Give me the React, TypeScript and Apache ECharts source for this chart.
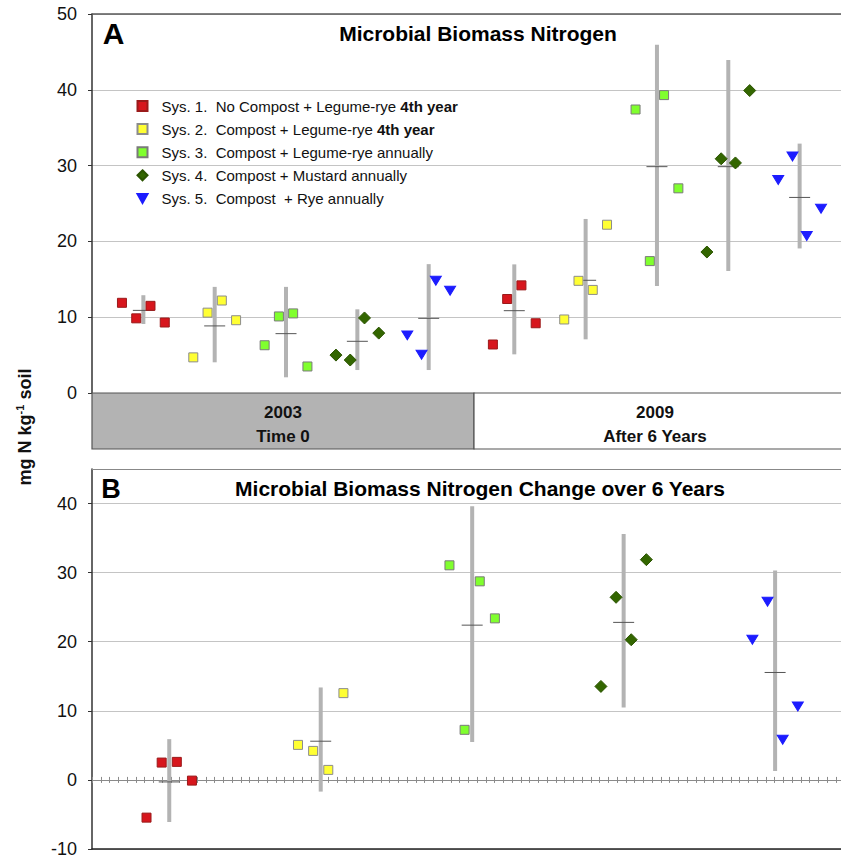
import React, { useEffect, useRef } from "react";
import * as echarts from "echarts";

// ---------- data ----------
const systemNames = [
  "Sys. 1.  No Compost + Legume-rye 4th year",
  "Sys. 2.  Compost + Legume-rye 4th year",
  "Sys. 3.  Compost + Legume-rye annually",
  "Sys. 4.  Compost + Mustard annually",
  "Sys. 5.  Compost  + Rye annually",
];
const boldSuffix = ["4th year", "4th year", "", "", ""];

const periodLabels = [["2003", "Time 0"], ["2009", "After 6 Years"]];
const titleA = "Microbial Biomass Nitrogen";
const titleB = "Microbial Biomass Nitrogen Change over 6 Years";

const yTicksA = [0, 10, 20, 30, 40, 50];
const yTicksB = [-10, 0, 10, 20, 30, 40];

// horizontal slot positions (in plot units)
const sampleOffsets = [-1.5, -0.5, 0.5, 1.5];
const centersA2003 = [3.5, 8.5, 13.5, 18.5, 23.5];
const centersA2009 = [29.5, 34.5, 39.5, 44.5, 49.5];
const centersB = [5, 15, 25, 35, 45];

// Panel A individual plot values (mg N / kg soil)
const valuesA2003 = [
  [11.9, 9.85, 11.5, 9.3],
  [4.7, 10.6, 12.2, 9.6],
  [6.3, 10.1, 10.5, 3.5],
  [5.0, 4.35, 9.9, 7.9],
  [7.6, 5.05, 14.8, 13.5],
];
const valuesA2009 = [
  [6.4, 12.4, 14.2, 9.2],
  [9.7, 14.8, 13.6, 22.2],
  [37.4, 17.4, 39.3, 27.0],
  [18.6, 30.9, 30.35, 39.9],
  [28.1, 31.2, 20.7, 24.3],
];
// [low, mean, high]
const rangesA2003 = [
  [9.1, 10.9, 12.9],
  [4.05, 8.85, 14.0],
  [2.07, 7.83, 14.0],
  [3.03, 6.82, 11.04],
  [3.03, 9.85, 17.0],
];
const rangesA2009 = [
  [5.1, 10.86, 16.97],
  [7.08, 14.87, 22.96],
  [14.12, 29.86, 45.95],
  [16.1, 29.86, 43.93],
  [19.07, 25.8, 32.9],
];

// Panel B change values
const valuesB = [
  [-5.46, 2.51, 2.61, -0.1],
  [5.07, 4.2, 1.45, 12.56],
  [31.06, 7.25, 28.74, 23.38],
  [13.53, 26.43, 20.29, 31.88],
  [20.29, 25.8, 5.8, 10.63],
];
const rangesB = [
  [-6.09, -0.29, 5.9],
  [-1.69, 5.6, 13.38],
  [5.5, 22.4, 39.6],
  [10.48, 22.8, 35.6],
  [1.3, 15.55, 30.3],
];

// ---------- styles ----------
const FONT = "'Liberation Sans', Arial, Helvetica, sans-serif";
const markerStyles = [
  { symbol: "rect", size: [9, 9], color: "#d7161d", border: "#9a1a1a" },
  { symbol: "rect", size: [9, 9], color: "#ffff33", border: "#8c8c8c" },
  { symbol: "rect", size: [9, 9], color: "#80ff2e", border: "#7a7a7a" },
  { symbol: "diamond", size: [12, 12], color: "#336600", border: "#2b5400" },
  { symbol: "path://M0,0L10,0L5,9Z", size: [11, 10], color: "#1c1cff", border: "#1c1cff" },
];

function rangeRenderer(params: any, api: any) {
  const x = api.value(0);
  const lo = api.coord([x, api.value(1)]);
  const mid = api.coord([x, api.value(2)]);
  const hi = api.coord([x, api.value(3)]);
  return {
    type: "group",
    children: [
      {
        type: "line",
        shape: { x1: lo[0], y1: lo[1], x2: hi[0], y2: hi[1] },
        style: { stroke: "#b3b3b3", lineWidth: 4 },
      },
      {
        type: "line",
        shape: { x1: mid[0] - 10.5, y1: mid[1], x2: mid[0] + 10.5, y2: mid[1] },
        style: { stroke: "#555555", lineWidth: 1 },
      },
    ],
  };
}

export default function App() {
  const ref = useRef<HTMLDivElement>(null);

  useEffect(() => {
    if (!ref.current) return;
    const chart = echarts.init(ref.current, null, { renderer: "svg" });

    const series: any[] = [];
    const rangeDataA: number[][] = [];
    rangesA2003.forEach((r, i) => rangeDataA.push([centersA2003[i], r[0], r[1], r[2]]));
    rangesA2009.forEach((r, i) => rangeDataA.push([centersA2009[i], r[0], r[1], r[2]]));
    const rangeDataB: number[][] = rangesB.map((r, i) => [centersB[i], r[0], r[1], r[2]]);
    series.push({
      type: "custom", name: "rangeA", xAxisIndex: 0, yAxisIndex: 0,
      renderItem: rangeRenderer, encode: { x: 0, y: [1, 2, 3] },
      data: rangeDataA, z: 1, silent: true,
    });
    series.push({
      type: "custom", name: "rangeB", xAxisIndex: 2, yAxisIndex: 1,
      renderItem: rangeRenderer, encode: { x: 0, y: [1, 2, 3] },
      data: rangeDataB, z: 1, silent: true,
    });

    systemNames.forEach((name, s) => {
      const m = markerStyles[s];
      const common = {
        type: "scatter",
        name,
        symbol: m.symbol,
        symbolSize: m.size,
        symbolKeepAspect: true,
        itemStyle: { color: m.color, borderColor: m.border, borderWidth: 1, opacity: 1 },
        z: 3,
        silent: true,
      };
      const dA: number[][] = [];
      valuesA2003[s].forEach((v, k) => dA.push([centersA2003[s] + sampleOffsets[k], v]));
      valuesA2009[s].forEach((v, k) => dA.push([centersA2009[s] + sampleOffsets[k], v]));
      series.push({ ...common, xAxisIndex: 0, yAxisIndex: 0, data: dA });
      const dB = valuesB[s].map((v, k) => [centersB[s] + sampleOffsets[k], v]);
      series.push({ ...common, xAxisIndex: 2, yAxisIndex: 1, data: dB });
    });

    const yLabel = { fontFamily: FONT, fontSize: 18, color: "#111", margin: 15 };
    const hiddenX = { show: false, axisLine: { onZero: false } };

    const option: any = {
      animation: false,
      backgroundColor: "#ffffff",
      grid: [
        { left: 92, top: 14, width: 749, height: 379 },
        { left: 92, top: 469, width: 749, height: 380 },
      ],
      legend: {
        data: systemNames,
        orient: "vertical",
        left: 131.5,
        top: 91,
        itemWidth: 10,
        itemHeight: 10,
        itemGap: 3.1,
        selectedMode: false,
        textStyle: {
          fontFamily: FONT,
          fontSize: 15,
          color: "#111",
          lineHeight: 20,
          padding: [0, 0, 0, 9],
          rich: { b: { fontFamily: FONT, fontSize: 15, fontWeight: "bold", color: "#111", lineHeight: 20 } },
        },
        formatter: (name: string) => {
          const i = systemNames.indexOf(name);
          const suf = boldSuffix[i];
          return suf ? name.slice(0, name.length - suf.length) + "{b|" + suf + "}" : name;
        },
      },
      xAxis: [
        { gridIndex: 0, type: "value", min: -0.1, max: 52.4, ...hiddenX },
        {
          gridIndex: 0, type: "value", position: "top", min: 0, max: 1,
          axisLine: { show: true, onZero: false, lineStyle: { color: "#5a5a5a", width: 1.5 } },
          axisTick: { show: false }, axisLabel: { show: false }, splitLine: { show: false },
        },
        { gridIndex: 1, type: "value", min: -0.1, max: 49.35, ...hiddenX },
        {
          gridIndex: 1, type: "value", position: "bottom", min: 0, max: 85.6, interval: 1,
          axisLine: { show: true, onZero: true, onZeroAxisIndex: 1, lineStyle: { color: "#8a8a8a", width: 1 } },
          axisTick: { show: true, inside: true, length: 3, lineStyle: { color: "#8a8a8a" } },
          axisLabel: { show: false }, splitLine: { show: false },
        },
        {
          gridIndex: 1, type: "value", position: "bottom", min: 0, max: 85.6, interval: 1,
          axisLine: { show: false, onZero: true, onZeroAxisIndex: 2 },
          axisTick: { show: true, inside: false, length: 3, lineStyle: { color: "#8a8a8a" } },
          axisLabel: { show: false }, splitLine: { show: false },
        },
        {
          gridIndex: 1, type: "value", position: "bottom", min: 0, max: 1,
          axisLine: { show: true, onZero: false, lineStyle: { color: "#222", width: 1.5 } },
          axisTick: { show: false }, axisLabel: { show: false }, splitLine: { show: false },
        },
        {
          gridIndex: 1, type: "value", position: "top", min: 0, max: 1,
          axisLine: { show: true, onZero: false, lineStyle: { color: "#888", width: 1 } },
          axisTick: { show: false }, axisLabel: { show: false }, splitLine: { show: false },
        },
      ],
      yAxis: [
        {
          gridIndex: 0, type: "value",
          min: yTicksA[0], max: yTicksA[yTicksA.length - 1], interval: yTicksA[1] - yTicksA[0],
          axisLine: { show: true, onZero: false, lineStyle: { color: "#333", width: 1.5 } },
          axisTick: { show: true, length: 4, lineStyle: { color: "#333" } },
          axisLabel: yLabel,
          splitLine: { show: true, lineStyle: { color: "#c4c4c4", width: 1.2 } },
        },
        {
          gridIndex: 1, type: "value",
          min: yTicksB[0], max: 45, interval: yTicksB[1] - yTicksB[0],
          axisLine: { show: true, onZero: false, lineStyle: { color: "#333", width: 1.5 } },
          axisTick: { show: true, length: 4, lineStyle: { color: "#333" } },
          axisLabel: { ...yLabel, showMaxLabel: false },
          splitLine: { show: true, lineStyle: { color: "#c4c4c4", width: 1.2 } },
        },
        {
          gridIndex: 1, type: "value", min: yTicksB[0], max: 45, show: false,
          axisLine: { onZero: false },
        },
      ],
      graphic: [
        {
          type: "rect", z: 5,
          shape: { x: 92, y: 393, width: 382, height: 56 },
          style: { fill: "#b3b3b3", stroke: "#555", lineWidth: 1.2 },
        },
        {
          type: "rect", z: 5,
          shape: { x: 474, y: 393, width: 372, height: 56 },
          style: { fill: "#ffffff", stroke: "#555", lineWidth: 1.2 },
        },
        {
          type: "text", z: 6, x: 283, y: 424,
          style: {
            text: periodLabels[0][0] + "\n" + periodLabels[0][1],
            fontFamily: FONT, fontSize: 17, fontWeight: "bold", fill: "#111",
            align: "center", verticalAlign: "middle", lineHeight: 24,
          },
        },
        {
          type: "text", z: 6, x: 655, y: 424,
          style: {
            text: periodLabels[1][0] + "\n" + periodLabels[1][1],
            fontFamily: FONT, fontSize: 17, fontWeight: "bold", fill: "#111",
            align: "center", verticalAlign: "middle", lineHeight: 24,
          },
        },
        {
          type: "text", z: 6, x: 113.5, y: 33,
          style: { text: "A", fontFamily: FONT, fontSize: 30, fontWeight: "bold", fill: "#000", align: "center", verticalAlign: "middle" },
        },
        {
          type: "text", z: 6, x: 478, y: 33,
          style: { text: titleA, fontFamily: FONT, fontSize: 21, fontWeight: "bold", fill: "#000", align: "center", verticalAlign: "middle" },
        },
        {
          type: "text", z: 6, x: 111, y: 489,
          style: { text: "B", fontFamily: FONT, fontSize: 27, fontWeight: "bold", fill: "#000", align: "center", verticalAlign: "middle" },
        },
        {
          type: "text", z: 6, x: 480, y: 488,
          style: { text: titleB, fontFamily: FONT, fontSize: 21, fontWeight: "bold", fill: "#000", align: "center", verticalAlign: "middle" },
        },
        {
          type: "text", z: 6, x: 25, y: 427, rotation: Math.PI / 2,
          style: {
            text: "{a|mg N kg}{s|-1}{a| soil}",
            align: "center", verticalAlign: "middle",
            rich: {
              a: { fontFamily: FONT, fontSize: 18, fontWeight: "bold", fill: "#111", lineHeight: 22 },
              s: { fontFamily: FONT, fontSize: 11, fontWeight: "bold", fill: "#111", verticalAlign: "top", lineHeight: 22, padding: [0, 0, 10, 0] },
            },
          },
        },
      ],
      series,
    };

    chart.setOption(option);
    return () => chart.dispose();
  }, []);

  return (
    <div
      ref={ref}
      style={{ position: "absolute", left: 0, top: 0, width: 841, height: 860, background: "#fff" }}
    />
  );
}
